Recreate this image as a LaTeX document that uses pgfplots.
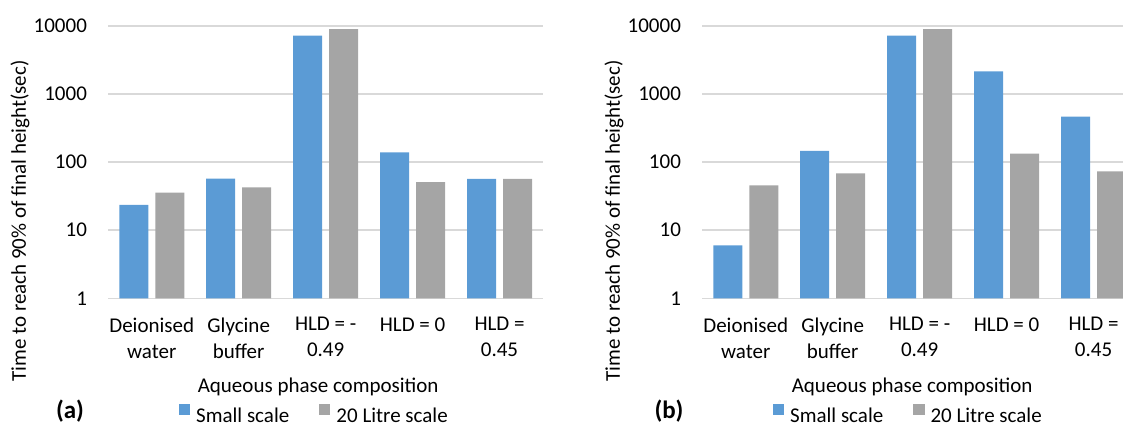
\documentclass[border=0pt]{standalone}
\usepackage{pgfplots}
\pgfplotsset{compat=1.18}
\usepackage{fontspec}
\setmainfont{Carlito}

\definecolor{smallblue}{HTML}{5B9BD5}
\definecolor{litregray}{HTML}{A5A5A5}
\definecolor{gridgray}{HTML}{D9D9D9}

\newcommand\chartfont{\fontsize{10.5}{13}\selectfont}
\newcommand\panelfont{\bfseries\fontsize{12.5}{14}\selectfont}

% Settings shared by both panels
\pgfplotsset{
  scale only axis,
  width=217.35pt, height=136.15pt,
  clip=false,
  ymin=1, ymax=10000,
  ytick={1,10,100,1000,10000},
  yticklabels={1,10,100,1000,10000},
  xmin=-0.5, xmax=4.5,
  xtick={0,1,2,3,4},
  xticklabels={{Deionised\\water},{Glycine\\buffer},{HLD = -\\0.49},{HLD = 0},{HLD =\\0.45}},
  xticklabel style={align=center, anchor=north, inner sep=0pt, yshift=-9.4pt,
                    font=\chartfont},
  yticklabel style={anchor=east, inner sep=0pt, xshift=-10.5pt, font=\chartfont},
  major tick length=0pt, minor tick length=0pt,
  tick style={draw=none},
  axis line style={draw=none},
  ymajorgrids, grid style={gridgray, line width=0.75pt},
  xlabel style={at={(axis description cs:0.4828,0)}, anchor=base, yshift=-47.2pt,
                inner sep=0pt, font=\chartfont},
  ylabel style={at={(axis description cs:-0.1896,0.2839)}, anchor=base,
                inner sep=0pt, font=\chartfont},
  legend columns=2,
  legend cell align=left,
  legend style={draw=none, fill=none, inner sep=0pt, outer sep=0pt,
                at={(0.1626,-0.4555)}, anchor=south west,
                font=\chartfont,
                /tikz/every odd column/.append style={column sep=3pt},
                /tikz/every even column/.append style={column sep=15pt},
                nodes={inner sep=0pt, text depth=0pt}},
}

\begin{document}
\begin{tikzpicture}
% Panel (a)
\begin{axis}[at={(54.15pt,63.35pt)}, anchor=south west,
    ymode=log, ybar=3.5pt, bar width=14.5pt,
    xlabel={Aqueous phase composition},
    ylabel={Time to reach 90\% of final height(sec)},
    legend image code/.code={\fill[#1] (0pt,0.1pt) rectangle (5.6pt,5.75pt);}]
  \addplot[fill=smallblue, draw=none] coordinates {(0,23.5) (1,57.1) (2,7200) (3,139.6) (4,57)};
  \addplot[fill=litregray, draw=none] coordinates {(0,35.6) (1,42.7) (2,9030) (3,51.1) (4,57)};
  \legend{Small scale, 20 Litre scale}
  \node[font=\panelfont, anchor=base] at (axis description cs:-0.0881,-0.4396) {(a)};
\end{axis}
% Panel (b)
\begin{axis}[at={(351.15pt,63.35pt)}, anchor=south west,
    ymode=log, ybar=3.5pt, bar width=14.5pt,
    xlabel={Aqueous phase composition},
    ylabel={Time to reach 90\% of final height(sec)},
    legend image code/.code={\fill[#1] (0pt,0.1pt) rectangle (5.6pt,5.75pt);}]
  \addplot[fill=smallblue, draw=none] coordinates {(0,6.0) (1,147) (2,7200) (3,2160) (4,465)};
  \addplot[fill=litregray, draw=none] coordinates {(0,45.7) (1,68.6) (2,9030) (3,133) (4,73.3)};
  \legend{Small scale, 20 Litre scale}
  \node[font=\panelfont, anchor=base] at (axis description cs:-0.0766,-0.4396) {(b)};
\end{axis}
\pgfresetboundingbox
\useasboundingbox (0,0) rectangle (561.5pt,212.5pt);
\end{tikzpicture}
\end{document}
